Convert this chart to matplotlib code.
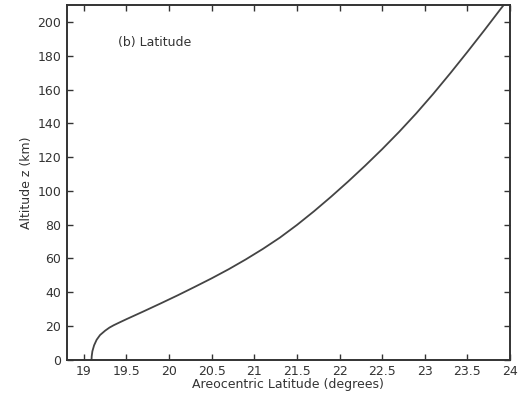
import numpy as np
import matplotlib
matplotlib.use('Agg')
import matplotlib.pyplot as plt
from matplotlib import rcParams
rcParams['font.family'] = ['DejaVu Sans']

# values
lat = [19.09, 19.092, 19.10, 19.12, 19.15, 19.19, 19.25, 19.30, 19.35, 19.42, 19.5, 19.7, 19.9, 20.1,
       20.3, 20.5, 20.7, 20.9, 21.1, 21.3, 21.5, 21.7, 21.9, 22.1,
       22.3, 22.5, 22.7, 22.9, 23.1, 23.3, 23.5, 23.7, 23.9, 23.925]
alt = [0, 2, 5, 8.5, 11.8, 14.6, 17.2, 19.0, 20.4, 22.1, 24.0, 28.6, 33.3, 38.1,
       43.1, 48.2, 53.6, 59.4, 65.6, 72.3, 79.8, 87.9, 96.5, 105.5,
       114.9, 124.7, 135, 145.9, 157.5, 169.7, 182.3, 195.2, 208.4, 210]

xticks = [19, 19.5, 20, 20.5, 21, 21.5, 22, 22.5, 23, 23.5, 24]
xticklabels = ['19', '19.5', '20', '20.5', '21', '21.5', '22', '22.5', '23', '23.5', '24']
yticks = list(range(0, 201, 20))

txt = '#333333'
fig = plt.figure(figsize=(5.22, 3.97), dpi=100)
ax = fig.add_axes([0.128, 0.094, 0.849, 0.893])
ax.plot(lat, alt, color='#444444', linewidth=1.3)

ax.set_xlim(18.8, 24)
ax.set_ylim(0, 210)
ax.set_xticks(xticks)
ax.set_xticklabels(xticklabels)
ax.set_yticks(yticks)
ax.tick_params(direction='in', top=True, right=True, length=4, width=1,
               labelsize=9, labelcolor=txt, color='#333333', pad=4)
for s in ax.spines.values():
    s.set_linewidth(1.4)
    s.set_color('#333333')

ax.set_xlabel('Areocentric Latitude (degrees)', fontsize=9, color=txt, labelpad=0)
ax.set_ylabel('Altitude z (km)', fontsize=9, color=txt, labelpad=3)
ax.text(0.115, 0.885, '(b) Latitude', transform=ax.transAxes, fontsize=9, color=txt)

fig.savefig('out.png')
plt.close()
